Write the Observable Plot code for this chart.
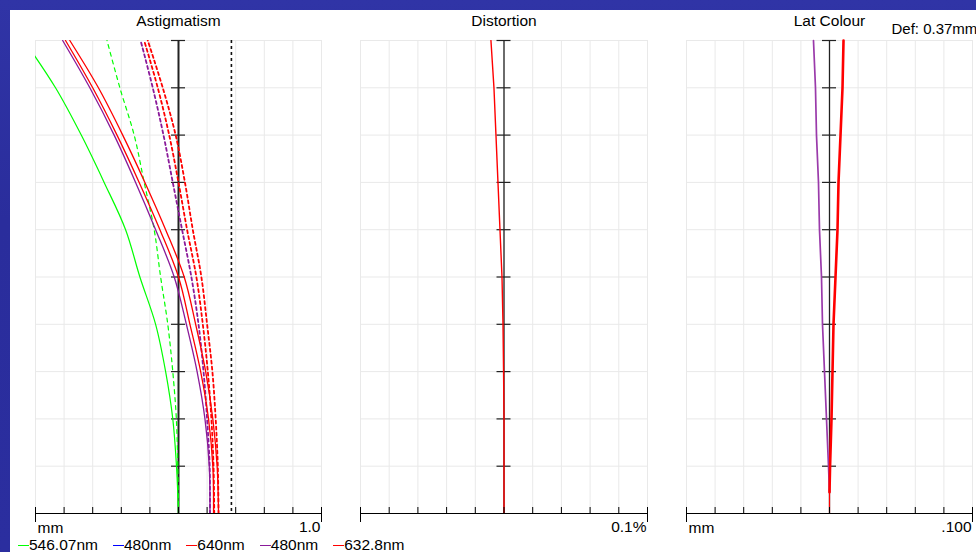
<!DOCTYPE html>
<html><head><meta charset="utf-8">
<script src="https://cdn.jsdelivr.net/npm/d3@7"></script>
<script src="https://cdn.jsdelivr.net/npm/@observablehq/plot@0.6"></script>
<style>
html,body{margin:0;padding:0;}
body{width:976px;height:552px;overflow:hidden;background:linear-gradient(180deg,#3034a6 0%,#2a2d9c 40%,#2b2e9f 100%);font-family:"Liberation Sans",Arial,sans-serif;}
#page{position:relative;width:976px;height:552px;overflow:hidden;}
#sheet{position:absolute;left:10px;top:10px;right:0;bottom:0;background:#fff;}
.panel{position:absolute;top:10px;}
.panel svg{overflow:visible;font-family:"Liberation Sans",Arial,sans-serif;}
#legend{position:absolute;left:18px;top:537px;display:flex;gap:15px;font-size:15.5px;line-height:16px;color:#000;white-space:nowrap;}
.item{display:flex;align-items:center;}
.sw{display:inline-block;width:11px;height:1px;}
</style></head><body>
<div id="page"><div id="sheet"></div>
<div id="p1" class="panel" style="left:10px"></div>
<div id="p2" class="panel" style="left:340px"></div>
<div id="p3" class="panel" style="left:670px"></div>
<div id="legend"></div>
</div>
<script>
// ---- data ----
const titles = ["Astigmatism", "Distortion", "Lat Colour"];
const unitLeft = ["mm", "", "mm"];
const unitRight = ["1.0", "0.1%", ".100"];
const defocusLabel = "Def: 0.37mm";
const defocus = 0.37;

const field = [0, 0.1, 0.2, 0.3, 0.4, 0.5, 0.6, 0.7, 0.8, 0.9, 1.0];
const fieldTicks = [0.1, 0.2, 0.3, 0.4, 0.5, 0.6, 0.7, 0.8, 0.9, 1.0];
const astigTicks = [-1, -0.8, -0.6, -0.4, -0.2, 0, 0.2, 0.4, 0.6, 0.8, 1];
const pctTicks = [-0.1, -0.08, -0.06, -0.04, -0.02, 0, 0.02, 0.04, 0.06, 0.08, 0.1];

// Astigmatism (mm) — T solid, S dashed
const green546T = [0, -0.014, -0.04, -0.09, -0.16, -0.27, -0.37, -0.52, -0.68, -0.86, -1.08];
const green546S = [0, -0.005, -0.015, -0.04, -0.075, -0.125, -0.17, -0.24, -0.31, -0.41, -0.50];
const purple480T = [0.22, 0.215, 0.185, 0.13, 0.055, -0.03, -0.16, -0.30, -0.45, -0.62, -0.81];
const red640T = [0.245, 0.24, 0.21, 0.155, 0.08, 0.0, -0.13, -0.275, -0.43, -0.60, -0.79];
const red632T = [0.28, 0.27, 0.24, 0.19, 0.12, 0.04, -0.09, -0.235, -0.39, -0.56, -0.76];
const purple480S = [0.22, 0.218, 0.20, 0.175, 0.14, 0.09, 0.025, -0.04, -0.105, -0.18, -0.265];
const red640S = [0.25, 0.245, 0.23, 0.205, 0.17, 0.125, 0.06, 0.0, -0.065, -0.145, -0.24];
const red632S = [0.28, 0.275, 0.26, 0.237, 0.20, 0.16, 0.10, 0.045, -0.02, -0.11, -0.215];

// Distortion (%)
const distortion = [0, 0, 0, -0.0003, -0.0007, -0.0014, -0.0028, -0.0042, -0.0056, -0.0070, -0.0091];

// Lateral colour (mm)
const latField = [0.045, 0.1, 0.2, 0.3, 0.4, 0.5, 0.6, 0.7, 0.8, 0.9, 1.0];
const latPurple = [0, -0.0007, -0.0021, -0.0035, -0.0049, -0.0056, -0.007, -0.0077, -0.0091, -0.0098, -0.0112];
const latRed = [0, 0.0004, 0.0014, 0.0021, 0.0028, 0.0042, 0.0056, 0.0063, 0.0077, 0.0091, 0.0098];

const legendLabels = ["546.07nm", "480nm", "640nm", "480nm", "632.8nm"];
const legendColors = ["#00ff00", "#0000ff", "#ff0000", "#8a1a9a", "#ff0000"];

// ---- helpers ----
const zip = (fs, vs) => fs.map((f, i) => ({f, v: vs[i]}));
const GREEN = "#00ff00", RED = "#ff0000", PURPLE = "#8a1a9a", GRID = "#e9e9e9";
const CURVE = "catmull-rom";

function panel({el, width, ml, mr, domain, ticks, title, left, right, marks, axisW = 1.5}) {
  const lo = domain[0], hi = domain[1];
  const p = Plot.plot({
    width, height: 530, marginLeft: ml, marginRight: mr, marginTop: 30, marginBottom: 27,
    x: {domain, axis: null}, y: {domain: [0, 1], axis: null},
    marks: [
      Plot.ruleX(ticks, {stroke: GRID, strokeWidth: 1}),
      Plot.ruleY(fieldTicks, {stroke: GRID, strokeWidth: 1}),
      Plot.ruleX([0], {stroke: "#222", strokeWidth: axisW}),
      Plot.ruleY(fieldTicks, {y: d => d, x1: 0, x2: 0, insetLeft: -7, insetRight: -7, stroke: "#222", strokeWidth: 1.2}),
      ...marks,
      Plot.ruleY([0], {stroke: "#000", strokeWidth: 1}),
      Plot.ruleX(ticks, {x: d => d, y1: 0, y2: 0, insetTop: -6, stroke: "#000", strokeWidth: 1}),
      Plot.ruleX([lo, hi], {x: d => d, y1: 0, y2: 0, insetTop: -6, insetBottom: -9, stroke: "#000", strokeWidth: 1}),
      Plot.text([title], {frameAnchor: "top", dy: -19, text: d => d, fontSize: 15.5, lineAnchor: "middle", fill: "#000"}),
      Plot.text([left], {frameAnchor: "bottom-left", dx: 2, dy: 15, text: d => d, fontSize: 15.5, textAnchor: "start", lineAnchor: "middle", fill: "#000"}),
      Plot.text([right], {frameAnchor: "bottom-right", dx: -1, dy: 14, text: d => d, fontSize: 15.5, textAnchor: "end", lineAnchor: "middle", fill: "#000"})
    ]
  });
  document.getElementById(el).appendChild(p);
}

// Astigmatism
panel({
  el: "p1", width: 330, ml: 25, mr: 19, domain: [-1, 1], ticks: astigTicks,
  title: titles[0], left: unitLeft[0], right: unitRight[0], axisW: 2,
  marks: [
    Plot.ruleX([defocus], {stroke: "#111", strokeWidth: 1.6, strokeDasharray: "3,3"}),
    Plot.line(zip(field, green546S), {x: "v", y: "f", curve: CURVE, stroke: GREEN, strokeWidth: 1.2, strokeDasharray: "4,4", clip: true}),
    Plot.line(zip(field, purple480S), {x: "v", y: "f", curve: CURVE, stroke: PURPLE, strokeWidth: 1.8, strokeDasharray: "3,3", clip: true}),
    Plot.line(zip(field, red640S), {x: "v", y: "f", curve: CURVE, stroke: RED, strokeWidth: 1.8, strokeDasharray: "3,3", clip: true}),
    Plot.line(zip(field, red632S), {x: "v", y: "f", curve: CURVE, stroke: RED, strokeWidth: 1.8, strokeDasharray: "3,3", clip: true}),
    Plot.line(zip(field, purple480T), {x: "v", y: "f", curve: CURVE, stroke: PURPLE, strokeWidth: 1.3, clip: true}),
    Plot.line(zip(field, red640T), {x: "v", y: "f", curve: CURVE, stroke: RED, strokeWidth: 1.3, clip: true}),
    Plot.line(zip(field, red632T), {x: "v", y: "f", curve: CURVE, stroke: RED, strokeWidth: 1.3, clip: true}),
    Plot.line(zip(field, green546T), {x: "v", y: "f", curve: CURVE, stroke: GREEN, strokeWidth: 1.2, clip: true})
  ]
});

// Distortion
panel({
  el: "p2", width: 330, ml: 20, mr: 23, domain: [-0.1, 0.1], ticks: pctTicks,
  title: titles[1], left: unitLeft[1], right: unitRight[1], axisW: 1.3,
  marks: [
    Plot.line(zip(field, distortion), {x: "v", y: "f", stroke: RED, strokeWidth: 1.4, clip: true})
  ]
});

// Lat colour
panel({
  el: "p3", width: 306, ml: 16, mr: 4, domain: [-0.1, 0.1], ticks: pctTicks,
  title: titles[2], left: unitLeft[2], right: unitRight[2], axisW: 1.3,
  marks: [
    Plot.ruleX([0], {y1: 0, y2: 0.05, stroke: RED, strokeWidth: 1.2}),
    Plot.line(zip(latField, latPurple), {x: "v", y: "f", stroke: "#9a3aaa", strokeWidth: 1.7}),
    Plot.line(zip(latField, latRed), {x: "v", y: "f", stroke: RED, strokeWidth: 2.6}),
    Plot.text([defocusLabel], {frameAnchor: "top-left", dx: 205, dy: -11, text: d => d, fontSize: 15, textAnchor: "start", lineAnchor: "middle", fill: "#000"})
  ]
});

// Legend
const leg = document.getElementById("legend");
legendLabels.forEach((t, i) => {
  const it = document.createElement("span");
  it.className = "item";
  const sw = document.createElement("span");
  sw.className = "sw";
  sw.style.background = legendColors[i];
  const tx = document.createElement("span");
  tx.textContent = t;
  it.appendChild(sw); it.appendChild(tx);
  leg.appendChild(it);
});
</script>
</body></html>
